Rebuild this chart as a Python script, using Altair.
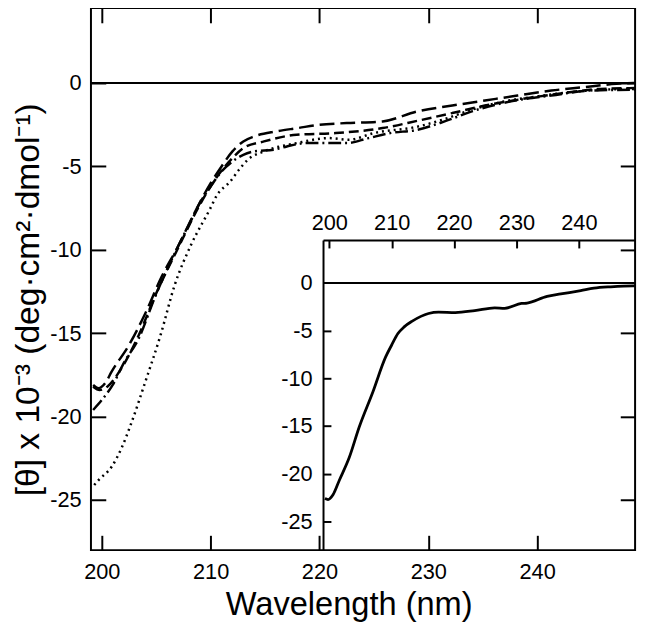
import altair as alt
import pandas as pd

FONT = "Liberation Sans"

# ---- main panel: four CD spectra (wavelength nm, [theta] x 1e-3) ----
a_lam = [199.2, 200, 201, 202, 203.4, 204.9, 206.7, 208, 209, 210, 211, 212, 213, 214, 215.8, 217, 218.8, 220, 222.5, 224.5, 226.5, 229, 231.5, 234, 237.6, 241.3, 244.9, 249]
a_val = [-19.6, -19.0, -18.1, -16.8, -15.3, -12.8, -10.2, -8.5, -7.2, -6.2, -5.3, -4.7, -4.3, -4.1, -4.0, -3.8, -3.6, -3.6, -3.6, -3.3, -3.0, -2.8, -2.3, -1.7, -1.1, -0.75, -0.45, -0.4]

b_lam = [199.2, 199.7, 200.3, 200.9, 202.5, 204, 205.5, 207, 208.5, 210, 211, 212, 213, 214, 216, 218, 220, 222.5, 225.8, 229, 232.2, 235.2, 238.2, 241.3, 244.3, 247.3, 249]
b_val = [-18.1, -18.3, -18.0, -17.3, -15.7, -13.8, -11.6, -9.8, -7.8, -6.0, -5.0, -4.1, -3.5, -3.2, -2.9, -2.7, -2.5, -2.4, -2.3, -1.7, -1.35, -1.05, -0.75, -0.45, -0.25, -0.05, 0.0]

c_lam = [199.2, 199.8, 200.5, 201.8, 203.4, 205, 207, 209, 210.5, 212, 213, 214.9, 217.9, 221.5, 225.8, 229.1, 232.2, 235.2, 239.7, 243, 245.8, 249]
c_val = [-18.2, -18.4, -18.2, -17.1, -15.1, -12.6, -9.9, -7.3, -5.7, -4.5, -3.9, -3.5, -3.1, -3.0, -2.7, -2.25, -1.8, -1.35, -0.85, -0.55, -0.35, -0.3]

d_lam = [199.3, 199.7, 200.9, 201.8, 202.7, 204, 205.4, 206.7, 208.2, 209.9, 210.6, 211.8, 212.6, 213.4, 214.9, 217.9, 220.9, 222.7, 225, 229.1, 231.3, 234, 237, 240, 243, 246, 249]
d_val = [-24.1, -23.8, -23.0, -21.9, -20.4, -17.9, -15.1, -12.1, -9.7, -7.6, -6.7, -5.9, -5.2, -4.6, -4.1, -3.6, -3.3, -3.4, -3.0, -2.6, -2.2, -1.6, -1.1, -0.8, -0.55, -0.4, -0.35]

series_names = ["dash-dot", "long dash", "dash", "dotted"]
series_dash = [[13, 4, 2, 4], [15, 6], [10, 5], [2, 4]]

# ---- inset spectrum ----
e_lam = [199.3, 199.8, 200.6, 201.6, 203.2, 204.8, 207, 209, 210, 211, 212, 213.3, 215.9, 217.5, 220.2, 223.3, 226.5, 228.1, 230.8, 231.7, 234.9, 237.1, 240.3, 242.4, 245.1, 248.7, 249]
e_val = [-22.6, -22.7, -22.2, -20.7, -18.3, -15.1, -11.4, -7.8, -6.5, -5.3, -4.6, -4.0, -3.2, -3.05, -3.1, -2.9, -2.6, -2.65, -2.15, -2.1, -1.4, -1.15, -0.8, -0.55, -0.4, -0.3, -0.3]

x_ticks = [200, 210, 220, 230, 240]
y_ticks = [0, -5, -10, -15, -20, -25]

XDOM = [199, 249]
YDOM = [-28, 4.5]
W, H = 551, 549
INSET_XR = [235, 551]
INSET_YR = [549, 235]

rows = []
for name, lams, vals in zip(series_names, [a_lam, b_lam, c_lam, d_lam], [a_val, b_val, c_val, d_val]):
    for l, v in zip(lams, vals):
        rows.append({"series": name, "wl": l, "v": v})
main_df = pd.DataFrame(rows)
inset_df = pd.DataFrame({"wl": e_lam, "v": e_val})

LBL = "'' + datum.value"

def tick_axis(orient, values, offset, size, labels, pad=0, **kw):
    return alt.Axis(orient=orient, values=values, offset=offset, tickSize=size,
                    tickWidth=2, tickColor="black", domain=False, grid=False,
                    labels=labels, labelExpr=LBL, labelFont=FONT, labelFontSize=22,
                    labelColor="black", labelPadding=pad, **kw)

main_x = alt.Scale(domain=XDOM, nice=False, zero=False)
main_y = alt.Scale(domain=YDOM, nice=False, zero=False)

curves = alt.Chart(main_df).mark_line(strokeWidth=2.5, color="black", interpolate="monotone").encode(
    x=alt.X("wl:Q", scale=main_x,
            axis=tick_axis("bottom", x_ticks, -15, 15, True, pad=12,
                           title="Wavelength (nm)", titleFont=FONT, titleFontSize=33,
                           titleFontWeight="normal", titleColor="black", titleX=261, titleY=80,
                           titleBaseline="alphabetic", titleAlign="center")),
    y=alt.Y("v:Q", scale=main_y,
            axis=tick_axis("left", y_ticks, -15, 15, True, pad=10,
                           title="[θ] x 10⁻³ (deg·cm²·dmol⁻¹)", titleFont=FONT, titleFontSize=34,
                           titleFontWeight="normal", titleColor="black", titleX=-78, titleY=295,
                           titleAngle=270, titleBaseline="middle", titleAlign="center")),
    strokeDash=alt.StrokeDash("series:N", scale=alt.Scale(domain=series_names, range=series_dash), legend=None),
    detail="series:N",
)

zero_main = alt.Chart(pd.DataFrame({"z": [0]})).mark_rule(color="black", strokeWidth=2).encode(
    x=alt.XDatum(XDOM[0], type="quantitative", scale=main_x,
                 axis=tick_axis("top", x_ticks, -15, 15, False, title=None)),
    x2=alt.X2Datum(XDOM[1]),
    y=alt.YDatum(0, type="quantitative", scale=main_y,
                 axis=tick_axis("right", y_ticks, -15, 15, False, title=None)),
)

inset_x = alt.Scale(domain=XDOM, range=INSET_XR, nice=False, zero=False)
inset_y = alt.Scale(domain=YDOM, range=INSET_YR, nice=False, zero=False)

inset_curve = alt.Chart(inset_df).mark_line(strokeWidth=2.8, color="black", interpolate="monotone").encode(
    x=alt.X("wl:Q", scale=inset_x,
            axis=tick_axis("top", x_ticks, -(INSET_YR[1] + 8), 8, True, pad=6, title=None)),
    y=alt.Y("v:Q", scale=inset_y,
            axis=tick_axis("left", y_ticks, -(INSET_XR[0] + 8), 8, True, pad=11, title=None)),
)

frame_axis = dict(domain=True, domainColor="black", domainWidth=2, ticks=False,
                  labels=False, grid=False, title=None)
inset_zero = alt.Chart(pd.DataFrame({"z": [0]})).mark_rule(color="black", strokeWidth=2).encode(
    x=alt.XDatum(XDOM[0], type="quantitative", scale=inset_x,
                 axis=alt.Axis(orient="top", offset=-INSET_YR[1], **frame_axis)),
    x2=alt.X2Datum(XDOM[1]),
    y=alt.YDatum(0, type="quantitative", scale=inset_y,
                 axis=alt.Axis(orient="left", offset=-INSET_XR[0], **frame_axis)),
)

chart = alt.layer(curves, zero_main, inset_curve, inset_zero).resolve_scale(
    x="independent", y="independent", strokeDash="independent"
).properties(
    width=W, height=H,
    background="white",
    autosize=alt.AutoSizeParams(type="none"),
    padding={"left": 84, "top": -4, "right": 7, "bottom": 84},
).configure_view(stroke="black", strokeWidth=2)

chart.save("out.html", embed_options={"renderer": "svg", "actions": False})
